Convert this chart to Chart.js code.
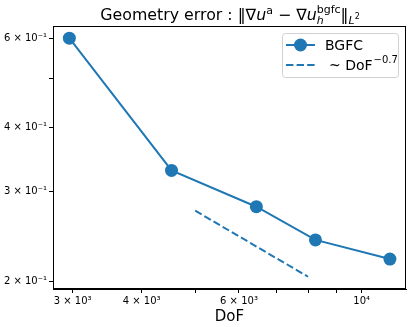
<!DOCTYPE html>
<html>
<head>
<meta charset="utf-8">
<script src="https://cdn.jsdelivr.net/npm/chart.js@4"></script>
<style>
  html, body { margin: 0; padding: 0; background: #fff; }
  #wrap { width: 417px; height: 327px; }
</style>
</head>
<body>
<div id="wrap"><canvas id="chart" width="417" height="327"></canvas></div>
<script>
// values
const dofs = [2960, 4530, 6450, 8250, 11250];
const errors = [0.600, 0.330, 0.280, 0.241, 0.221];
const refDofs = [5000, 8000];
const refErrors = [0.275, 0.204];

const xTicks = [3000, 4000, 5000, 6000, 7000, 8000, 9000, 10000];
const xTickLabels = ['3 × 10³', '4 × 10³', '', '6 × 10³', '', '', '', '10⁴'];
const yTicks = [0.2, 0.3, 0.4, 0.5, 0.6];
const yTickLabels = ['2 × 10⁻¹', '3 × 10⁻¹', '4 × 10⁻¹', '', '6 × 10⁻¹'];

const blue = '#1f77b4';
const FAM = "'DejaVu Sans', sans-serif";

// title with mathtext-like pieces
const titlePlugin = {
    id: 'mathTitle',
    afterDraw(chart) {
        const ctx = chart.ctx;
        const N = s => s + 'px ' + FAM;
        const I = s => 'italic ' + s + 'px ' + FAM;
        const segs = [
            { t: 'Geometry error', f: N(15.8) },
            { t: ' :', f: N(15.8) },
            { t: ' ‖∇', f: N(15.8) },
            { t: 'u', f: I(15.8) },
            { t: 'a', f: N(11), dy: -6 },
            { t: ' − ∇', f: N(15.8) },
            { t: 'u', f: I(15.8) },
            { stack: [{ t: 'bgfc', f: N(11), dy: -7 }, { t: 'h', f: I(11), dy: 4 }] },
            { t: '‖', f: N(15.8) },
            { t: 'L', f: I(11), dy: 4 },
            { t: '2', f: N(8), dy: -1 }
        ];
        const widthOf = s => {
            if (s.stack) {
                return Math.max(...s.stack.map(p => { ctx.font = p.f; return ctx.measureText(p.t).width; }));
            }
            ctx.font = s.f;
            return ctx.measureText(s.t).width;
        };
        const total = segs.reduce((a, s) => a + widthOf(s), 0);
        let x = 230 - total / 2;
        const base = 20;
        ctx.save();
        ctx.fillStyle = '#000';
        ctx.textBaseline = 'alphabetic';
        ctx.textAlign = 'left';
        segs.forEach(s => {
            const w = widthOf(s);
            const parts = s.stack ? s.stack : [s];
            parts.forEach(p => {
                ctx.font = p.f;
                ctx.fillText(p.t, x, base + (p.dy || 0));
            });
            x += w;
        });
        ctx.restore();
    }
};

// matplotlib style legend box
const legendPlugin = {
    id: 'mplLegend',
    afterDraw(chart) {
        const ctx = chart.ctx;
        ctx.save();
        ctx.beginPath();
        ctx.roundRect(282.5, 33.5, 116, 44, 3);
        ctx.fillStyle = 'rgba(255,255,255,0.8)';
        ctx.fill();
        ctx.strokeStyle = '#d0d0d0';
        ctx.lineWidth = 1;
        ctx.stroke();

        ctx.strokeStyle = blue;
        ctx.lineWidth = 2;
        ctx.beginPath();
        ctx.moveTo(286, 45);
        ctx.lineTo(315, 45);
        ctx.stroke();
        ctx.fillStyle = blue;
        ctx.beginPath();
        ctx.arc(300.5, 45, 6.5, 0, Math.PI * 2);
        ctx.fill();

        ctx.setLineDash([7.4, 3.2]);
        ctx.beginPath();
        ctx.moveTo(286, 65);
        ctx.lineTo(315, 65);
        ctx.stroke();
        ctx.setLineDash([]);

        ctx.fillStyle = '#000';
        ctx.textBaseline = 'alphabetic';
        ctx.font = '14px ' + FAM;
        ctx.fillText('BGFC', 325, 50);
        ctx.fillText('~ DoF', 329, 70);
        const w = ctx.measureText('~ DoF').width;
        ctx.font = '10px ' + FAM;
        ctx.fillText('−0.7', 329 + w + 1, 63);
        ctx.restore();
    }
};

const framePlugin = {
    id: 'frame',
    afterDatasetsDraw(chart) {
        const a = chart.chartArea;
        const ctx = chart.ctx;
        ctx.save();
        ctx.strokeStyle = '#000';
        ctx.lineWidth = 1;
        ctx.strokeRect(Math.round(a.left) + 0.5, Math.round(a.top) + 0.5,
            Math.round(a.right - a.left) - 1, Math.round(a.bottom - a.top) - 1);
        ctx.restore();
    }
};

new Chart(document.getElementById('chart').getContext('2d'), {
    type: 'line',
    data: {
        datasets: [
            {
                label: 'BGFC',
                data: dofs.map((d, i) => ({ x: d, y: errors[i] })),
                borderColor: blue,
                backgroundColor: blue,
                borderWidth: 2,
                pointRadius: 6.5,
                pointBorderWidth: 0,
                pointBackgroundColor: blue,
                tension: 0,
                clip: false
            },
            {
                label: '~ DoF^-0.7',
                data: refDofs.map((d, i) => ({ x: d, y: refErrors[i] })),
                borderColor: blue,
                borderWidth: 2,
                borderDash: [7.4, 3.2],
                pointRadius: 0,
                tension: 0
            }
        ]
    },
    options: {
        responsive: false,
        animation: false,
        layout: { padding: { top: 26, right: 11, left: 0, bottom: 0 } },
        plugins: {
            legend: { display: false },
            tooltip: { enabled: false },
            title: { display: false }
        },
        scales: {
            x: {
                type: 'logarithmic',
                min: 2765,
                max: 12030,
                afterBuildTicks: s => { s.ticks = xTicks.map(v => ({ value: v })); },
                afterFit: s => { s.height = 38; },
                ticks: {
                    autoSkip: false,
                    maxRotation: 0,
                    padding: 2,
                    color: '#000',
                    font: { family: FAM, size: 10 },
                    callback: (v, i) => xTickLabels[i]
                },
                grid: { drawOnChartArea: false, drawTicks: true, tickLength: 4, color: '#000' },
                border: { display: true, color: '#000' },
                title: {
                    display: true,
                    text: 'DoF',
                    color: '#000',
                    font: { family: FAM, size: 15 },
                    padding: { top: 0, bottom: 1 }
                }
            },
            y: {
                type: 'logarithmic',
                min: 0.193,
                max: 0.634,
                afterBuildTicks: s => { s.ticks = yTicks.map(v => ({ value: v })); },
                afterFit: s => { s.width = 53; },
                ticks: {
                    autoSkip: false,
                    padding: 2,
                    color: '#000',
                    font: { family: FAM, size: 10 },
                    callback: (v, i) => yTickLabels[i]
                },
                grid: { drawOnChartArea: false, drawTicks: true, tickLength: 4, color: '#000' },
                border: { display: true, color: '#000' }
            }
        }
    },
    plugins: [framePlugin, titlePlugin, legendPlugin]
});
</script>
</body>
</html>
